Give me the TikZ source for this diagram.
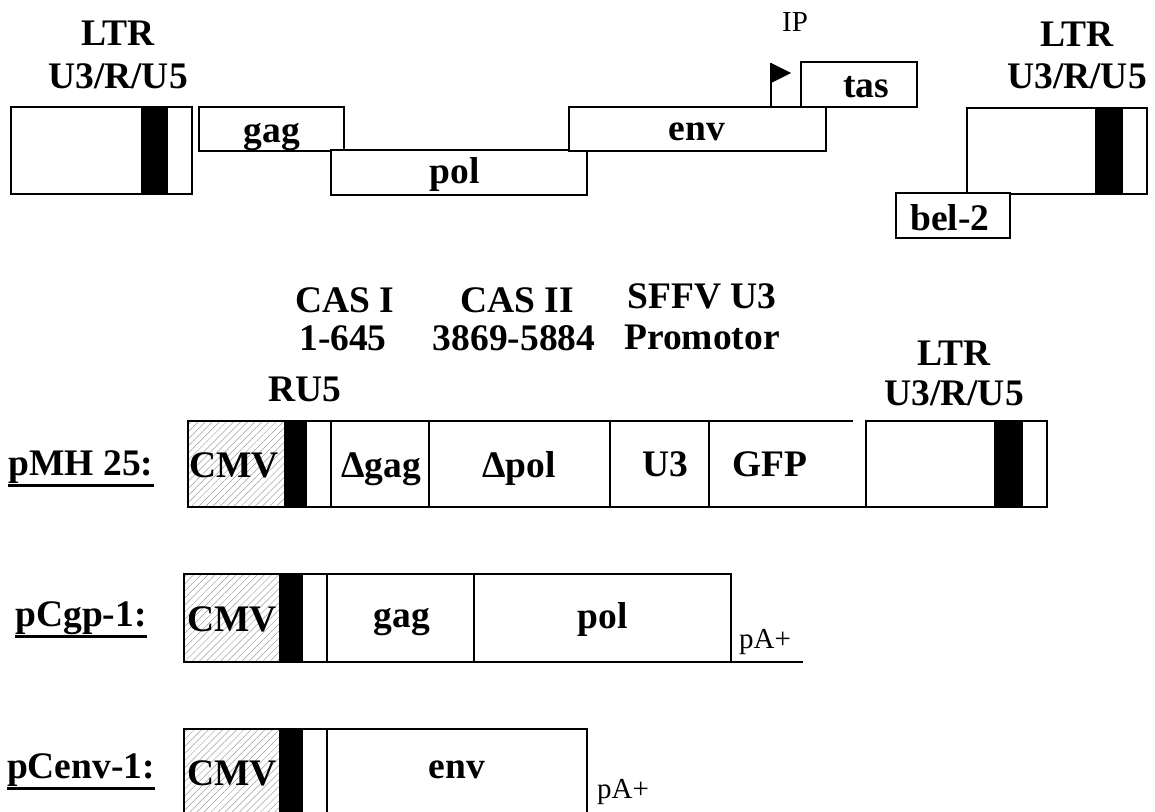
\documentclass[tikz,border=0pt]{standalone}
\usepackage{fontspec}
\setmainfont{Liberation Serif}
\usetikzlibrary{patterns.meta}
\newcommand\gbox[6]{\node[#6, minimum width={(#4-#2)*1pt}, minimum height={(#5-#3)*1pt}] (#1) at ({(#2+#4)/2},{(#3+#5)/2}) {};}
\tikzset{
  lbl/.style={font=\fontsize{37.5}{40}\selectfont\bfseries, anchor=base, inner sep=0pt},
  sml/.style={font=\fontsize{29}{32}\selectfont, anchor=base, inner sep=0pt},
  gene/.style={draw, line width=1.7pt, fill=white, inner sep=0pt, outer sep=0pt},
  blk/.style={draw, fill=black, line width=1.7pt, inner sep=0pt, outer sep=0pt},
  cmv/.style={draw, line width=1.7pt, inner sep=0pt, outer sep=0pt,
    pattern={Lines[angle=45,distance=5pt,line width=0.5pt]}, pattern color=gray!75},
  cell/.style={draw, line width=1.7pt, inner sep=0pt, outer sep=0pt},
  plain/.style={inner sep=0pt, outer sep=0pt},
  ul/.style={line width=2.8pt},
  wire/.style={line width=1.7pt}
}
\begin{document}
\begin{tikzpicture}[x=1pt,y=-1pt]
\useasboundingbox (0,0) rectangle (1155,811);
\clip (0,0) rectangle (1155,811);
% ---------- top: provirus ----------
\gbox{ltrL}{11}{107}{192}{194}{gene}
\gbox{barL}{142}{107}{167}{194}{blk}
\node[lbl] (ltrLa) at (118,45) {LTR};
\node[lbl] (ltrLb) at (118,88) {U3/R/U5};
\gbox{gag}{199}{107}{344}{151}{gene}
\gbox{pol}{331}{150}{587}{195}{gene}
\node[lbl] (gagt) at (272,142) {gag};
\node[lbl] (polt) at (455,183) {pol};
\gbox{env}{569}{107}{826}{151}{gene}
\node[lbl] (envt) at (697,140) {env};
\gbox{tas}{801}{62}{917}{107}{gene}
\node[lbl] (tast) at (866,97) {tas};
\coordinate (ipbase) at (771,107);
\coordinate (iptop) at (771,63);
\draw[wire] (ipbase) -- (iptop);
\fill (iptop) -- (791,73) -- (771,83) -- cycle;
\node[sml] (ip) at (795,31) {IP};
\gbox{ltrR}{967}{108}{1147}{194}{gene}
\gbox{barR}{1096}{108}{1122}{194}{blk}
\gbox{bel}{896}{193}{1010}{238}{gene}
\node[lbl] (belt) at (950,230) {bel-2};
\node[lbl] (ltrRa) at (1077,46) {LTR};
\node[lbl] (ltrRb) at (1077,88) {U3/R/U5};
% ---------- middle: pMH 25 ----------
\node[lbl] (cas1) at (345,312) {CAS I};
\node[lbl] (cas1n) at (343,350) {1-645};
\node[lbl] (ru5) at (305,401) {RU5};
\node[lbl] (cas2) at (517,312) {CAS II};
\node[lbl] (cas2n) at (514,350) {3869-5884};
\node[lbl] (sffv) at (702,308) {SFFV U3};
\node[lbl] (prom) at (702,349) {Promotor};
\node[lbl] (ltrMa) at (954,365) {LTR};
\node[lbl] (ltrMb) at (954,405) {U3/R/U5};
\node[lbl] (pmh) at (81,475) {pMH 25:};
\draw[ul] ([yshift=-2pt]pmh.south west) -- ([yshift=-2pt]pmh.south east);
\gbox{m1}{188}{421}{285}{507}{cmv}
\gbox{m2}{285}{421}{306}{507}{blk}
\gbox{m3}{306}{421}{331}{507}{cell}
\gbox{m4}{331}{421}{429}{507}{cell}
\gbox{m5}{429}{421}{610}{507}{cell}
\gbox{m6}{610}{421}{709}{507}{cell}
\gbox{m7}{709}{421}{866}{507}{plain}
\draw[wire] (m7.north west) -- ++(144,0);
\draw[wire] (m7.south west) -- (m7.south east);
\gbox{m8}{866}{421}{1047}{507}{cell}
\gbox{m9}{995}{421}{1022}{507}{blk}
\node[lbl] (m1t) at (234,477) {CMV};
\node[lbl] (m4t) at (381,477) {Δgag};
\node[lbl] (m5t) at (519,477) {Δpol};
\node[lbl] (m6t) at (665,476) {U3};
\node[lbl] (m7t) at (770,476) {GFP};
% ---------- pCgp-1 ----------
\node[lbl] (pcgp) at (81,626) {pCgp-1:};
\draw[ul] ([yshift=-2pt]pcgp.south west) -- ([yshift=-2pt]pcgp.south east);
\gbox{g1}{184}{574}{280}{662}{cmv}
\gbox{g2}{280}{574}{302}{662}{blk}
\gbox{g3}{302}{574}{327}{662}{cell}
\gbox{g4}{327}{574}{474}{662}{cell}
\gbox{g5}{474}{574}{731}{662}{cell}
\coordinate (pa1) at (803,662);
\draw[wire] (g5.south east) -- (pa1);
\node[sml] (pa1t) at (765,648) {pA+};
\node[lbl] (g1t) at (232,631) {CMV};
\node[lbl] (g4t) at (402,627) {gag};
\node[lbl] (g5t) at (603,628) {pol};
% ---------- pCenv-1 ----------
\node[lbl] (pcenv) at (81,778) {pCenv-1:};
\draw[ul] ([yshift=-2pt]pcenv.south west) -- ([yshift=-2pt]pcenv.south east);
\gbox{e1}{184}{729}{280}{830}{cmv}
\gbox{e2}{280}{729}{302}{830}{blk}
\gbox{e3}{302}{729}{327}{830}{cell}
\gbox{e4}{327}{729}{587}{830}{cell}
\node[lbl] (e1t) at (232,785) {CMV};
\node[lbl] (e4t) at (457,778) {env};
\node[sml] (pa2t) at (623,798) {pA+};
\end{tikzpicture}
\end{document}
